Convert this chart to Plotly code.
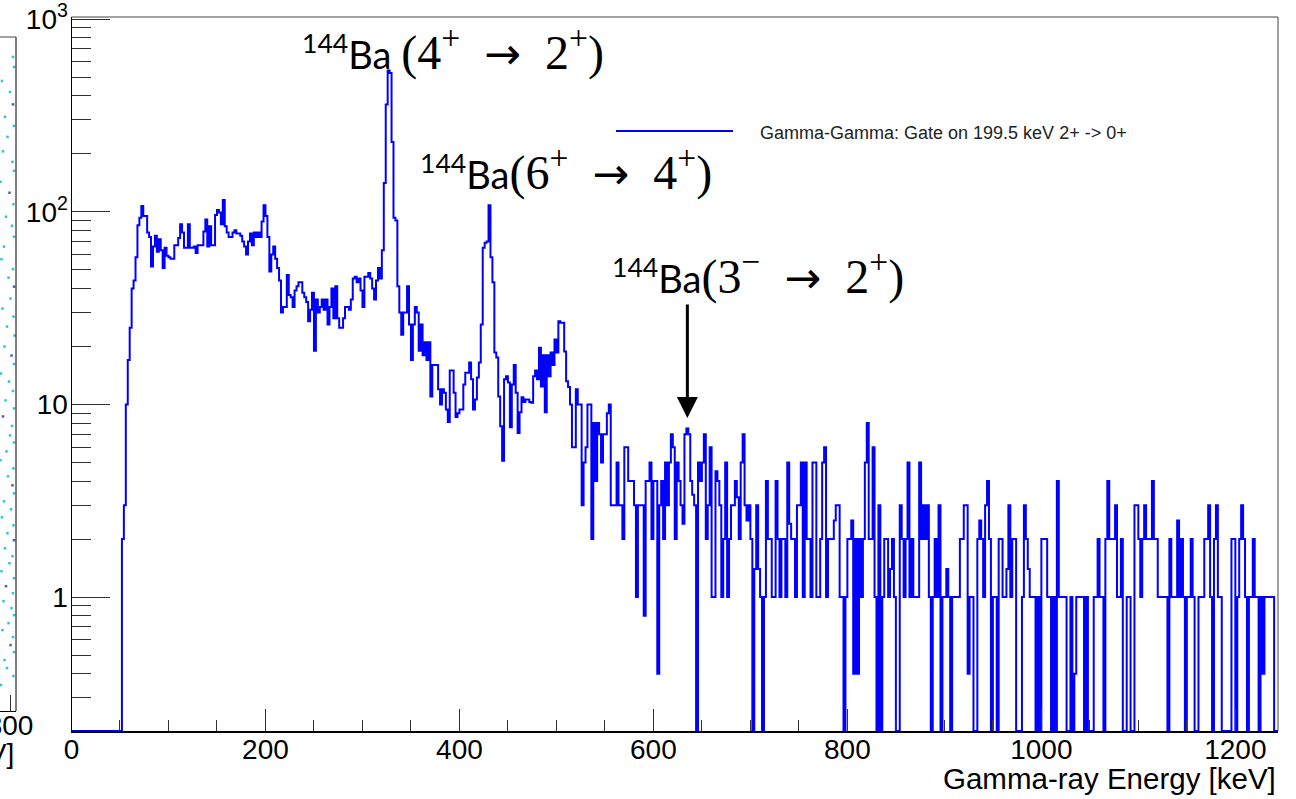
import numpy as np
import plotly.graph_objects as go

W, H = 1296, 799

# ---------------- data: gamma-gamma coincidence spectrum (2 keV bins) ----------------
BIN_KEV = 2.0
N_BINS = 622          # 0 .. 1244 keV

seg_a_start_kev = 52
seg_a = [2, 3, 10, 17, 25, 40, 44, 58, 85, 93,
         107, 95, 95, 78, 74, 52, 66, 75, 62, 72,
         63, 51, 65, 59, 58, 57, 57, 67, 67, 73,
         86, 78, 65, 65, 86, 65, 65, 66, 61, 67,
         67, 67, 79, 91, 66, 84, 67, 67, 96, 102,
         99, 86, 115, 84, 78, 74, 74, 78, 80, 77,
         77, 75, 70, 66, 60, 70, 77, 67, 78, 74,
         78, 74, 89, 108, 95, 74, 49, 60, 66, 57,
         51, 44, 30, 32, 32, 47, 37, 36, 32, 39,
         41, 43]

seg_b_start_kev = 236
seg_b = [43, 38, 36, 34, 27, 31, 38, 19, 35, 30,
         32, 35, 31, 35, 26, 32, 40, 28, 41, 28,
         25, 25, 28, 32, 32, 31, 35, 45, 46, 43,
         45, 39, 32, 46, 46, 48, 45, 40, 35, 44,
         51, 45, 63]

seg_peak_start_kev = 322
seg_peak = [141, 360, 540, 525, 230, 93, 90]

seg_c_start_kev = 336
seg_c = [41, 30, 23, 30, 30, 41, 26, 17, 26, 32,
         30, 19, 26, 18, 21, 17, 21, 11, 16, 16,
         16, 12, 10, 12, 11.5, 9.4, 8.1, 15, 15, 11.5,
         8.6, 9]

seg_d_start_kev = 400
seg_d = [9.4, 9.4, 12.7, 14.6, 14.6, 16.5, 13.5, 9.4, 10.6, 13.8,
         16.5, 26, 65, 69, 70, 108, 58, 43, 18.6, 17.5,
         11, 7.7, 5.1, 13.5, 14, 13, 7.6, 12.7, 16, 11.5,
         7.1, 9.1, 10.9, 10.3, 10.6, 10.6, 10.3, 10.2, 14, 15,
         13.5, 19.7, 12.4, 18, 9.1, 18, 14, 18.6, 16, 21.7,
         18.6, 27, 26.5, 26.5, 18.8, 13.2, 12.3]

seg_e_start_kev = 514
seg_e = [10, 6, 6, 12, 10, 10, 3, 5, 6, 10, 10, 2,
         8, 4, 8, 7, 5, 7, 7, 9, 10, 3,
         3, 3, 5, 3, 3, 2, 6, 6, 4, 4,
         4, 3, 1, 3, 3, 3, 0.8, 4, 4, 5,
         2, 4, 4, 0.4, 3, 4, 2, 5, 3, 5,
         7, 6, 2, 5, 4, 3, 2.4, 7, 7.5, 7,
         4, 3.4, 3, 0, 5, 4, 5, 7, 2, 3,
         6, 1, 1, 4.5, 4, 3, 1, 2, 5, 1,
         2, 3, 3, 4, 3.3, 2, 5, 7, 3, 2.5,
         3, 2, 0, 1.4, 3, 1.4, 1, 0, 1, 4,
         2, 2, 1, 1, 4, 2, 1, 2, 2, 1,
         5, 2.4, 2, 2, 1, 3]

seg_f_start_kev = 750
seg_f = [3, 5, 1, 5, 2, 2, 1, 5, 5, 1, 1,
         2, 5, 6, 1, 2, 2, 2, 2.5, 3, 3,
         1, 1, 0, 1, 2, 2, 2.5, 0.4, 2, 0.4,
         2, 1, 2, 5, 8, 2, 2, 6, 1, 0,
         3, 0, 1, 2, 2, 1, 1.4, 2, 1, 0,
         0, 3, 2, 1, 2, 5, 1, 2, 1, 1, 1,
         5, 2, 3, 2, 3, 1, 0, 1, 2, 1,
         3, 0, 1, 1, 1.4, 1, 0, 1, 1, 1,
         1, 2, 2, 3, 3, 0.4, 1, 1, 0, 0, 2,
         2.5, 2, 1, 3, 4, 2, 0, 1, 1, 0,
         2, 2, 1, 1, 1.4, 3, 1, 2, 2, 0, 0,
         0, 1, 3, 2, 1.4, 1, 1, 1, 0, 1]

seg_g_start_kev = 998
seg_g = [0, 2, 2, 2, 1, 1, 0, 1, 0, 4,
         1, 1, 1, 1, 0, 0, 1, 0, 0.4, 1, 1,
         1, 1, 0, 1, 0, 0, 0, 1, 1, 2,
         1, 1, 0, 2, 4, 2, 2, 2, 3, 1,
         1, 2, 0, 0, 1, 1, 0, 0, 3, 3, 2,
         1, 2, 3, 2, 2, 2, 4, 2, 2, 1,
         1, 1, 1, 1, 0, 2, 1, 1, 1, 2.5,
         1, 2, 1, 0, 1, 1, 2, 1, 0, 0, 1,
         1, 1, 2, 2, 3, 1, 0, 2, 3, 1,
         1, 0, 0, 0, 0, 0, 2, 2, 0, 1,
         2, 3, 2, 1, 0, 1, 1, 2, 1, 1, 0,
         1, 0.4, 1, 1, 1, 1, 1, 0, 0]

# left (cut-off) panel: visible cells of the 2D gamma-gamma matrix
matrix_e1 = [806, 808, 784, 800, 806, 790, 808, 795, 786, 805,
             808, 781, 799, 807, 792, 804, 808, 788, 783, 806,
             797, 808, 801, 785, 807, 794, 809, 789, 803, 808,
             782, 798, 806, 791, 808, 786, 804, 800, 808, 793,
             781, 807, 796, 805, 808, 788, 802, 784, 807, 795,
             808, 790, 805, 799, 783, 808, 792, 806, 787, 803,
             808, 797, 785, 806, 801, 808, 789, 794, 807, 782]
matrix_e2 = [1310, 1290, 1262, 1240, 1215, 1190, 1172, 1150, 1121, 1100,
             1082, 1060, 1038, 1015, 990, 972, 950, 930, 905, 885,
             868, 850, 826, 806, 790, 770, 752, 730, 712, 695,
             676, 660, 641, 622, 606, 590, 571, 552, 538, 520,
             502, 486, 470, 452, 436, 420, 404, 388, 372, 356,
             342, 326, 310, 296, 280, 266, 250, 236, 220, 206,
             192, 176, 162, 148, 132, 118, 102, 86, 70, 52]
matrix_level = [1, 1, 1, 1, 2, 1, 1, 1, 1, 1,
                1, 1, 2, 1, 1, 1, 1, 1, 1, 1,
                1, 2, 1, 1, 1, 1, 1, 1, 2, 1,
                1, 1, 1, 1, 1, 2, 1, 1, 1, 1,
                1, 1, 1, 2, 1, 1, 1, 1, 1, 1,
                2, 1, 1, 1, 1, 1, 2, 1, 1, 1,
                1, 1, 1, 1, 2, 1, 1, 1, 1, 1]

SERIF = "<span style=\"font-family:'Liberation Serif';font-size:48px\">"
ARROW = "<span style=\"font-family:'DejaVu Sans';font-size:44px\">\u2192</span>"
SP = "\u2002"
PLUS = "<sup>+</sup>"
MINUS = "<sup>\u2212</sup>"
labels = ["<sup>144</sup>Ba " + SERIF + "(4" + PLUS + SP + ARROW + SP + "2" + PLUS + ")</span>",
          "<sup>144</sup>Ba" + SERIF + "(6" + PLUS + SP + ARROW + SP + "4" + PLUS + ")</span>",
          "<sup>144</sup>Ba" + SERIF + "(3" + MINUS + SP + ARROW + SP + "2" + PLUS + ")</span>"]
legend_text = "Gamma-Gamma: Gate on 199.5 keV 2+ -> 0+"
x_title = "Gamma-ray Energy [keV]"
y_tickvals = [1, 10, 100, 1000]
y_ticktext = ["1", "10", "10<sup>2</sup>", "10<sup>3</sup>"]
arrow_kev, arrow_counts = 635, 8.5

# ---------------- build histogram ----------------
counts = np.zeros(N_BINS)
for start, vals in [(seg_a_start_kev, seg_a), (seg_b_start_kev, seg_b),
                    (seg_peak_start_kev, seg_peak), (seg_c_start_kev, seg_c),
                    (seg_d_start_kev, seg_d), (seg_e_start_kev, seg_e),
                    (seg_f_start_kev, seg_f), (seg_g_start_kev, seg_g)]:
    i0 = int(round(start / BIN_KEV))
    vals = vals[:N_BINS - i0]
    counts[i0:i0 + len(vals)] = vals

Y_LOG_MIN, Y_LOG_MAX = -0.695, 3.0104
floor = 10 ** Y_LOG_MIN
shown = np.where(counts > 0, counts, floor)
edges = np.arange(N_BINS + 1) * BIN_KEV
hx = np.append(edges[:-1], edges[-1])
hy = np.append(shown, shown[-1])

# ---------------- geometry (pixels) ----------------
PL, PR, PT, PB = 71.5, 1278, 17, 731
LP_R, LP_T, LP_B = 16, 37, 711      # left cut-off panel frame


def px(x):
    return x / W


def py(y):
    return 1 - y / H


fig = go.Figure()
fig.add_trace(go.Scatter(x=hx, y=hy, mode="lines",
                         line=dict(color="#0000ff", width=2, shape="hv"),
                         name=legend_text, showlegend=False, hoverinfo="skip",
                         xaxis="x", yaxis="y"))
fig.add_trace(go.Scatter(x=matrix_e1, y=matrix_e2, mode="markers",
                         marker=dict(symbol="square", size=2.5,
                                     color=["#2fc3d8" if v == 1 else "#3a63c8" for v in matrix_level],
                                     line=dict(width=0)),
                         showlegend=False, hoverinfo="skip",
                         xaxis="x2", yaxis="y2"))

tick_font = dict(family="Liberation Sans, Arial, sans-serif", size=28, color="black")
title_font = dict(family="Liberation Sans, Arial, sans-serif", size=29.5, color="black")
minor_y = [v * m for v in (0.1, 1, 10, 100) for m in range(2, 10)]
minor_y = [v for v in minor_y if 10 ** Y_LOG_MIN < v < 1000]

fig.update_layout(
    width=W, height=H,
    margin=dict(l=0, r=0, t=0, b=0),
    paper_bgcolor="white", plot_bgcolor="white",
    showlegend=False,
    xaxis=dict(domain=[px(PL), px(PR)], range=[0, N_BINS * BIN_KEV],
               anchor="y", showgrid=False, zeroline=False,
               showline=True, linecolor="black", linewidth=2,
               ticks="inside", ticklen=22, tickwidth=1, tickcolor="#333",
               tick0=0, dtick=200, tickfont=tick_font, ticklabelstandoff=-8,
               ticklabeloverflow="allow",
               minor=dict(ticks="inside", ticklen=11, tickwidth=1, tickcolor="#333", dtick=50),
               automargin=False),
    yaxis=dict(domain=[py(PB), py(PT)], type="log", range=[Y_LOG_MIN, Y_LOG_MAX],
               anchor="x", showgrid=False, zeroline=False,
               showline=True, linecolor="black", linewidth=1,
               ticks="inside", ticklen=38, tickwidth=1, tickcolor="#333",
               tickmode="array", tickvals=y_tickvals, ticktext=y_ticktext,
               tickfont=tick_font, ticklabelstandoff=-3, ticklabeloverflow="allow",
               minor=dict(ticks="inside", ticklen=19, tickwidth=1, tickcolor="#333",
                          tickmode="array", tickvals=minor_y),
               automargin=False),
    xaxis2=dict(domain=[0, px(LP_R)], range=[780, 812], anchor="y2",
                showgrid=False, zeroline=False, showline=True, linecolor="black", linewidth=1,
                ticks="inside", ticklen=16, tickcolor="#333", tickmode="array", tickvals=[800],
                ticktext=["800"], tickfont=tick_font, ticklabelstandoff=-11,
                ticklabeloverflow="allow", automargin=False),
    yaxis2=dict(domain=[py(LP_B), py(LP_T)], range=[0, 1350], anchor="x2",
                showgrid=False, zeroline=False, showline=False, showticklabels=False,
                ticks="", automargin=False),
)

shapes = [
    dict(type="line", xref="paper", yref="paper", x0=px(PL), x1=px(PR), y0=py(PT), y1=py(PT),
         line=dict(color="#444", width=1)),
    dict(type="line", xref="paper", yref="paper", x0=px(PR), x1=px(PR), y0=py(PT), y1=py(PB),
         line=dict(color="#444", width=1)),
    dict(type="line", xref="paper", yref="paper", x0=px(LP_R), x1=px(LP_R), y0=py(LP_T), y1=py(LP_B),
         line=dict(color="black", width=1)),
    dict(type="line", xref="paper", yref="paper", x0=0, x1=px(LP_R), y0=py(LP_T), y1=py(LP_T),
         line=dict(color="#444", width=1)),
    dict(type="line", xref="paper", yref="paper", x0=px(616), x1=px(733), y0=py(131), y1=py(131),
         line=dict(color="#0000ff", width=2)),
]
fig.update_layout(shapes=shapes)

lab_font = dict(family="Lato, Noto Sans, sans-serif", size=38, color="black")
ann = [
    dict(text=labels[0], x=px(300), y=py(49), xref="paper", yref="paper",
         xanchor="left", yanchor="middle", showarrow=False, font=lab_font),
    dict(text=labels[1], x=px(418), y=py(169), xref="paper", yref="paper",
         xanchor="left", yanchor="middle", showarrow=False, font=lab_font),
    dict(text=labels[2], x=px(610), y=py(273), xref="paper", yref="paper",
         xanchor="left", yanchor="middle", showarrow=False, font=lab_font),
    dict(text="", x=arrow_kev, y=np.log10(arrow_counts), xref="x", yref="y",
         showarrow=True, arrowhead=2, arrowsize=1.4, arrowwidth=3, arrowcolor="black",
         ax=0, ay=-115, axref="pixel", ayref="pixel"),
    dict(text=legend_text, x=px(758), y=py(133), xref="paper", yref="paper",
         xanchor="left", yanchor="middle", showarrow=False,
         font=dict(family="Liberation Sans, Arial, sans-serif", size=18, color="#222")),
    dict(text=x_title, x=px(PR), y=py(778), xref="paper", yref="paper",
         xanchor="right", yanchor="middle", showarrow=False, font=title_font),
    dict(text="Energy [keV]", x=px(LP_R), y=py(753), xref="paper", yref="paper",
         xanchor="right", yanchor="middle", showarrow=False, font=tick_font),
]
fig.update_layout(annotations=ann)

fig.write_html("out.html")
